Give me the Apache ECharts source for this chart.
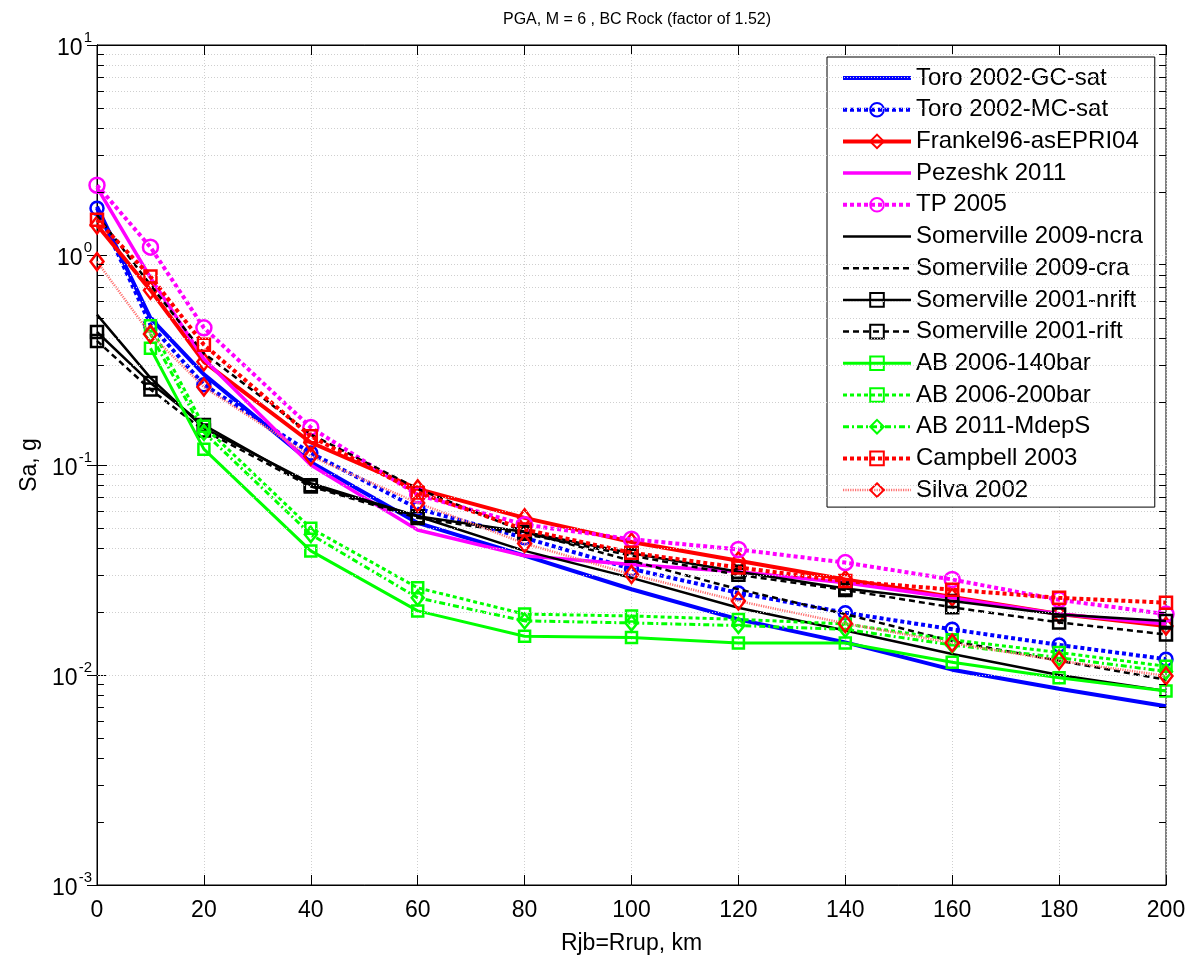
<!DOCTYPE html>
<html><head><meta charset="utf-8">
<script src="https://cdn.jsdelivr.net/npm/echarts/dist/echarts.min.js"></script>
<style>html,body{margin:0;padding:0;background:#fff}#c{width:1190px;height:960px}</style>
</head><body><div id="c"></div>
<script>
// ---- data (Rjb = Rrup in km; Sa in g) ----
const distances = [0, 10, 20, 40, 60, 80, 100, 120, 140, 160, 180, 200];
const xTicks = [0, 20, 40, 60, 80, 100, 120, 140, 160, 180, 200];
const yDecades = [0.001, 0.01, 0.1, 1, 10];

const toroGC      = [1.70, 0.50, 0.27, 0.103, 0.053, 0.037, 0.0256, 0.0184, 0.0143, 0.0106, 0.0086, 0.0071];
const toroMC      = [1.67, 0.465, 0.241, 0.114, 0.062, 0.045, 0.032, 0.0246, 0.0198, 0.0165, 0.0139, 0.0119];
const frankel     = [1.39, 0.68, 0.31, 0.128, 0.077, 0.056, 0.043, 0.035, 0.0285, 0.0235, 0.0195, 0.0171];
const pezeshk     = [2.10, 0.78, 0.32, 0.100, 0.049, 0.037, 0.0336, 0.031, 0.0275, 0.0233, 0.0195, 0.0175];
const tp2005      = [2.15, 1.09, 0.45, 0.151, 0.072, 0.052, 0.0443, 0.0396, 0.0343, 0.0285, 0.0228, 0.0195];
const som09ncra   = [0.52, 0.26, 0.15, 0.082, 0.057, 0.039, 0.029, 0.0209, 0.0163, 0.0126, 0.0100, 0.0084];
const som09cra    = [1.55, 0.72, 0.34, 0.140, 0.077, 0.048, 0.035, 0.0256, 0.0195, 0.0145, 0.0117, 0.0095];
const som01nrift  = [0.43, 0.246, 0.155, 0.080, 0.057, 0.048, 0.038, 0.031, 0.0258, 0.0225, 0.0194, 0.0181];
const som01rift   = [0.39, 0.229, 0.146, 0.079, 0.056, 0.047, 0.037, 0.030, 0.0254, 0.0210, 0.0178, 0.0156];
const ab06_140    = [null, 0.36, 0.119, 0.039, 0.0202, 0.0153, 0.0151, 0.0142, 0.0142, 0.0115, 0.0097, 0.0084];
const ab06_200    = [null, 0.46, 0.153, 0.050, 0.026, 0.0195, 0.0191, 0.0184, 0.0175, 0.0147, 0.0128, 0.0110];
const ab11_mdeps  = [null, 0.42, 0.143, 0.0467, 0.0233, 0.0181, 0.0177, 0.0172, 0.0165, 0.0139, 0.0121, 0.0104];
const campbell    = [1.47, 0.79, 0.374, 0.137, 0.074, 0.0493, 0.0382, 0.0325, 0.028, 0.0255, 0.0233, 0.0221];
const silva       = [0.93, 0.42, 0.235, 0.110, 0.066, 0.0423, 0.0301, 0.0225, 0.0176, 0.0142, 0.0117, 0.0099];

const seriesNames = ['Toro 2002-GC-sat','Toro 2002-MC-sat','Frankel96-asEPRI04','Pezeshk 2011','TP 2005',
  'Somerville 2009-ncra','Somerville 2009-cra','Somerville 2001-nrift','Somerville 2001-rift',
  'AB 2006-140bar','AB 2006-200bar','AB 2011-MdepS','Campbell 2003','Silva 2002'];
const seriesValues = [toroGC, toroMC, frankel, pezeshk, tp2005, som09ncra, som09cra, som01nrift, som01rift,
  ab06_140, ab06_200, ab11_mdeps, campbell, silva];

// ---- styles ----
const FONT = 'Liberation Sans, Arial, Helvetica, sans-serif';
const styles = [
  {color:'#0000ff', width:4,   dash:'solid',   symbol:'none'},
  {color:'#0000ff', width:4,   dash:[4,3],     symbol:'circle',  size:13},
  {color:'#ff0000', width:4,   dash:'solid',   symbol:'diamond', size:[13,17]},
  {color:'#ff00ff', width:3.5, dash:'solid',   symbol:'none'},
  {color:'#ff00ff', width:4,   dash:[4,3],     symbol:'circle',  size:15},
  {color:'#000000', width:2.5, dash:'solid',   symbol:'none'},
  {color:'#000000', width:2.5, dash:[6,4],     symbol:'none'},
  {color:'#000000', width:2.5, dash:'solid',   symbol:'rect',    size:12},
  {color:'#000000', width:2.5, dash:[6,4],     symbol:'rect',    size:12},
  {color:'#00ff00', width:3,   dash:'solid',   symbol:'rect',    size:11},
  {color:'#00ff00', width:3,   dash:[4,3],     symbol:'rect',    size:11},
  {color:'#00ff00', width:3,   dash:[6,3,2,3], symbol:'diamond', size:[12,15]},
  {color:'#ff0000', width:4,   dash:[4,3],     symbol:'rect',    size:12},
  {color:'#ff7070', width:2.5, dash:[1.2,1.2], symbol:'diamond', size:[13,17], marker:'#ff0000'}
];

// minor gridlines (2..9 in each decade)
const minorVals = [];
for (let e = -3; e < 1; e++) for (let m = 2; m <= 9; m++) minorVals.push(m * Math.pow(10, e));
const tickLen = 1.3;

const series = [];
series.push({
  name:'_grid', type:'line', data:[], z:1, silent:true,
  markLine:{ silent:true, symbol:'none', label:{show:false}, animation:false,
    lineStyle:{color:'#cfcfcf', type:[1,2], width:1},
    emphasis:{disabled:true},
    data: minorVals.map(v => ({yAxis:v}))
  }
});
series.push({
  name:'_ticks', type:'line', data:[], z:5, silent:true,
  markLine:{ silent:true, symbol:'none', label:{show:false}, animation:false,
    lineStyle:{color:'#000', type:'solid', width:1},
    emphasis:{disabled:true},
    data: minorVals.flatMap(v => [
      [{coord:[xTicks[0], v]}, {coord:[xTicks[0] + tickLen, v]}],
      [{coord:[xTicks[xTicks.length-1] - tickLen, v]}, {coord:[xTicks[xTicks.length-1], v]}]
    ])
  }
});

seriesNames.forEach((name, i) => {
  const st = styles[i];
  const pts = [];
  distances.forEach((d, k) => { if (seriesValues[i][k] != null) pts.push([d, seriesValues[i][k]]); });
  const mk = st.marker || st.color;
  series.push({
    name, type:'line', data: pts, z:2 + i * 0.01,
    symbol: st.symbol, symbolSize: st.size || 4, showSymbol: st.symbol !== 'none',
    lineStyle:{color: st.color, width: st.width, type: st.dash, cap:'butt'},
    itemStyle:{color:'rgba(255,255,255,0)', borderColor: mk, borderWidth: 2.5},
    emphasis:{disabled:true},
    animation:false
  });
});

const legendData = seriesNames.map((n, i) => {
  const st = styles[i];
  const item = {name:n, lineStyle:{color: st.color, width: st.width, type: st.dash, cap:'butt'}};
  if (st.symbol === 'none') item.itemStyle = {color:'rgba(0,0,0,0)', borderColor:'rgba(0,0,0,0)', borderWidth:0};
  return item;
});

const chart = echarts.init(document.getElementById('c'), null, {renderer:'canvas'});
chart.setOption({
  backgroundColor:'#ffffff',
  animation:false,
  textStyle:{fontFamily: FONT},
  title:{
    text:'PGA, M = 6 , BC Rock (factor of 1.52)',
    left: 632, top: 7, textAlign:'center',
    textStyle:{fontFamily: FONT, fontSize:16, fontWeight:'normal', color:'#000'}
  },
  grid:{left:97, right:24, top:45, bottom:74, show:true, borderColor:'#000', borderWidth:1, backgroundColor:'transparent'},
  legend:{
    data: legendData,
    orient:'vertical', left:827, top:57,
    backgroundColor:'#fff', borderColor:'#000', borderWidth:1,
    padding:[8,12,4,14],
    itemWidth:68, itemHeight:17, itemGap:5.7,
    textStyle:{fontFamily: FONT, fontSize:24, color:'#000', lineHeight:26},
    selectedMode:false
  },
  xAxis:[{
    type:'value', min: xTicks[0], max: xTicks[xTicks.length-1], interval: 20,
    name:'Rjb=Rrup, km', nameLocation:'middle', nameGap:47,
    nameTextStyle:{fontFamily: FONT, fontSize:23, color:'#000'},
    axisLine:{lineStyle:{color:'#000', width:1}},
    axisTick:{inside:true, length:10, lineStyle:{color:'#000'}},
    axisLabel:{fontFamily: FONT, fontSize:23, color:'#000', margin:14},
    splitLine:{show:true, lineStyle:{color:'#cfcfcf', type:[1,2]}}
  },{
    type:'value', position:'top', min: xTicks[0], max: xTicks[xTicks.length-1], interval: 20,
    axisLine:{lineStyle:{color:'#000'}},
    axisTick:{inside:true, length:10, lineStyle:{color:'#000'}},
    axisLabel:{show:false}, splitLine:{show:false}
  }],
  yAxis:[{
    type:'log', logBase:10, min: yDecades[0], max: yDecades[yDecades.length-1],
    name:'Sa, g', nameLocation:'middle', nameGap:55,
    nameTextStyle:{fontFamily: FONT, fontSize:23, color:'#000'},
    axisLine:{lineStyle:{color:'#000', width:1}},
    axisTick:{inside:true, length:10, lineStyle:{color:'#000'}},
    axisLabel:{
      margin:5,
      formatter: v => '{b|10}{s|' + Math.round(Math.log10(v)) + '}',
      rich:{
        b:{fontFamily: FONT, fontSize:23, color:'#000', lineHeight:30, verticalAlign:'bottom'},
        s:{fontFamily: FONT, fontSize:15, color:'#000', lineHeight:30, verticalAlign:'top', padding:[0,0,0,1]}
      }
    },
    splitLine:{show:true, lineStyle:{color:'#cfcfcf', type:[1,2]}}
  },{
    type:'log', logBase:10, position:'right', min: yDecades[0], max: yDecades[yDecades.length-1],
    axisLine:{lineStyle:{color:'#000'}},
    axisTick:{inside:true, length:10, lineStyle:{color:'#000'}},
    axisLabel:{show:false}, splitLine:{show:false}
  }],
  series
});
</script>
</body></html>
